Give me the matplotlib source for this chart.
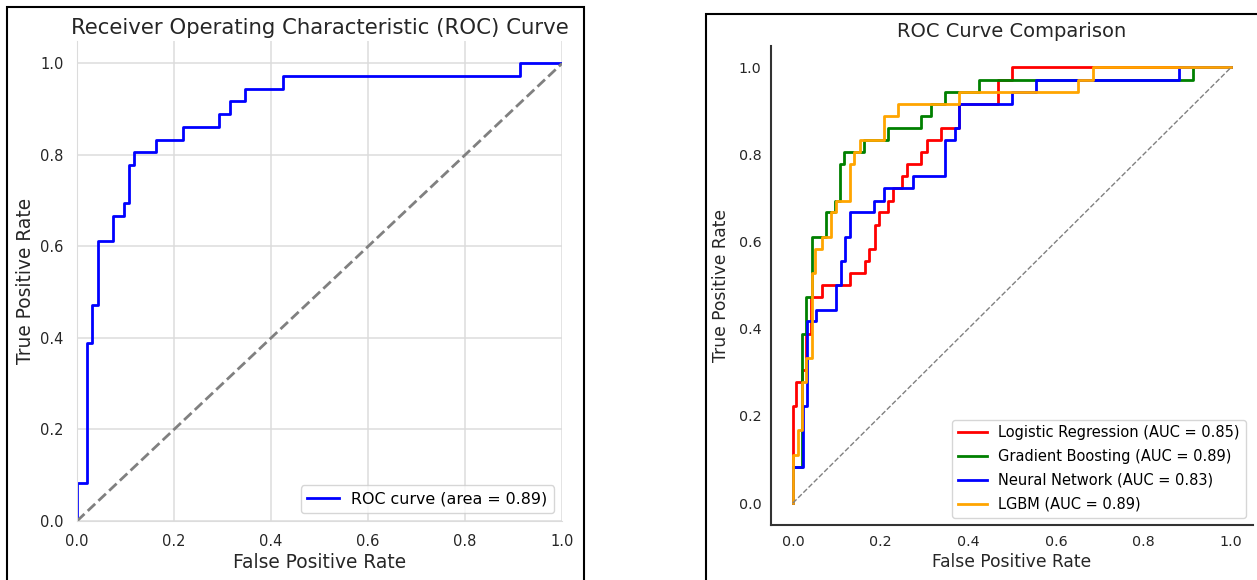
import matplotlib
matplotlib.use("Agg")
import matplotlib.pyplot as plt
import seaborn as sns
from matplotlib.patches import Rectangle

# ROC corner points (fpr, tpr)
lr_fpr = [0, 0, 0.008, 0.008, 0.02, 0.02, 0.029, 0.029, 0.042, 0.042, 0.066, 0.066,
          0.13, 0.13, 0.164, 0.164, 0.173, 0.173, 0.187, 0.187, 0.196, 0.196, 0.217, 0.217,
          0.228, 0.228, 0.25, 0.25, 0.261, 0.261, 0.293, 0.293, 0.305, 0.305, 0.337, 0.337,
          0.379, 0.379, 0.467, 0.467, 0.5, 0.5, 1.0]
lr_tpr = [0, 0.222, 0.222, 0.278, 0.278, 0.306, 0.306, 0.389, 0.389, 0.472, 0.472, 0.5,
          0.5, 0.528, 0.528, 0.556, 0.556, 0.583, 0.583, 0.639, 0.639, 0.667, 0.667, 0.694,
          0.694, 0.722, 0.722, 0.75, 0.75, 0.778, 0.778, 0.806, 0.806, 0.833, 0.833, 0.861,
          0.861, 0.917, 0.917, 0.972, 0.972, 1.0, 1.0]

gb_fpr = [0, 0, 0.021, 0.021, 0.031, 0.031, 0.043, 0.043, 0.075, 0.075, 0.0965, 0.0965,
          0.108, 0.108, 0.1175, 0.1175, 0.162, 0.162, 0.218, 0.218, 0.293, 0.293, 0.315, 0.315,
          0.347, 0.347, 0.424, 0.424, 0.914, 0.914, 1.0]
gb_tpr = [0, 0.083, 0.083, 0.389, 0.389, 0.472, 0.472, 0.611, 0.611, 0.667, 0.667, 0.694,
          0.694, 0.778, 0.778, 0.806, 0.806, 0.833, 0.833, 0.861, 0.861, 0.889, 0.889, 0.917,
          0.917, 0.944, 0.944, 0.972, 0.972, 1.0, 1.0]

nn_fpr = [0, 0, 0.023, 0.023, 0.032, 0.032, 0.053, 0.053, 0.098, 0.098, 0.109, 0.109,
          0.12, 0.12, 0.131, 0.131, 0.185, 0.185, 0.208, 0.208, 0.273, 0.273, 0.347, 0.347,
          0.37, 0.37, 0.38, 0.38, 0.499, 0.499, 0.554, 0.554, 0.881, 0.881, 1.0]
nn_tpr = [0, 0.083, 0.083, 0.222, 0.222, 0.417, 0.417, 0.444, 0.444, 0.5, 0.5, 0.556,
          0.556, 0.611, 0.611, 0.667, 0.667, 0.694, 0.694, 0.722, 0.722, 0.75, 0.75, 0.833,
          0.833, 0.861, 0.861, 0.917, 0.917, 0.944, 0.944, 0.972, 0.972, 1.0, 1.0]

lgbm_fpr = [0, 0, 0.011, 0.011, 0.021, 0.021, 0.030, 0.030, 0.043, 0.043, 0.051, 0.051,
            0.066, 0.066, 0.088, 0.088, 0.098, 0.098, 0.131, 0.131, 0.14, 0.14, 0.152, 0.152,
            0.208, 0.208, 0.239, 0.239, 0.38, 0.38, 0.651, 0.651, 0.684, 0.684, 1.0]
lgbm_tpr = [0, 0.111, 0.111, 0.167, 0.167, 0.278, 0.278, 0.333, 0.333, 0.528, 0.528, 0.583,
            0.583, 0.611, 0.611, 0.667, 0.667, 0.694, 0.694, 0.778, 0.778, 0.806, 0.806, 0.833,
            0.833, 0.889, 0.889, 0.917, 0.917, 0.944, 0.944, 0.972, 0.972, 1.0, 1.0]

models = [
    ("Logistic Regression", lr_fpr, lr_tpr, 0.85, "red"),
    ("Gradient Boosting", gb_fpr, gb_tpr, 0.89, "green"),
    ("Neural Network", nn_fpr, nn_tpr, 0.83, "blue"),
    ("LGBM", lgbm_fpr, lgbm_tpr, 0.89, "orange"),
]
single_auc = 0.89

W, H = 1257, 580
fig = plt.figure(figsize=(W / 100, H / 100), dpi=100)

# ---- left panel: single ROC curve (whitegrid look)
with sns.axes_style("whitegrid"):
    ax1 = fig.add_axes([77 / W, 1 - 521 / H, 485 / W, 480.4 / H])
ax1.plot(gb_fpr, gb_tpr, color="blue", lw=2, label=f"ROC curve (area = {single_auc:.2f})")
ax1.plot([0, 1], [0, 1], color="gray", lw=2, linestyle="--")
ax1.set_xlim(0.0, 1.0)
ax1.set_ylim(0.0, 1.05)
ax1.grid(True, color="#dcdcdc", lw=1.1)
for s in ["top", "right"]:
    ax1.spines[s].set_visible(False)
for s in ["left", "bottom"]:
    ax1.spines[s].set_color("#dcdcdc")
ax1.tick_params(length=0, labelsize=10.5, colors="#262626", pad=9.5)
ax1.set_xlabel("False Positive Rate", fontsize=13.4, color="#262626", labelpad=3)
ax1.set_ylabel("True Positive Rate", fontsize=13.4, color="#262626", labelpad=4)
ax1.set_title("Receiver Operating Characteristic (ROC) Curve", fontsize=15.3, color="#262626", pad=5)
ax1.legend(loc="lower right", fontsize=11.4)

# ---- right panel: comparison
with sns.axes_style("white"):
    ax2 = fig.add_axes([771 / W, 1 - 524.8 / H, 482 / W, 479.2 / H])
for name, fpr, tpr, auc, col in models:
    ax2.plot(fpr, tpr, color=col, lw=2, label=f"{name} (AUC = {auc:.2f})")
ax2.plot([0, 1], [0, 1], color="gray", lw=1, linestyle="--")
for s in ["top", "right"]:
    ax2.spines[s].set_visible(False)
for s in ["left", "bottom"]:
    ax2.spines[s].set_color("#333333")
    ax2.spines[s].set_linewidth(1.5)
ax2.set_xticks([0.0, 0.2, 0.4, 0.6, 0.8, 1.0])
ax2.set_yticks([0.0, 0.2, 0.4, 0.6, 0.8, 1.0])
ax2.tick_params(length=0, labelsize=10.3, colors="#262626", pad=7)
ax2.set_xlabel("False Positive Rate", fontsize=12.3, color="#262626", labelpad=3)
ax2.set_ylabel("True Positive Rate", fontsize=12.3, color="#262626", labelpad=6)
ax2.set_title("ROC Curve Comparison", fontsize=14, color="#262626")
ax2.legend(loc="lower right", fontsize=10.5, labelspacing=0.6)

# black frames around the two panels
fig.patches.append(Rectangle((6.8 / W, -0.05), 577 / W, 1.05 - 6.6 / H, transform=fig.transFigure,
                             fill=False, edgecolor="black", lw=1.5))
fig.patches.append(Rectangle((706.4 / W, -0.05), 0.5, 1.05 - 14 / H, transform=fig.transFigure,
                             fill=False, edgecolor="black", lw=1.5))

fig.savefig("out.png", dpi=100)
